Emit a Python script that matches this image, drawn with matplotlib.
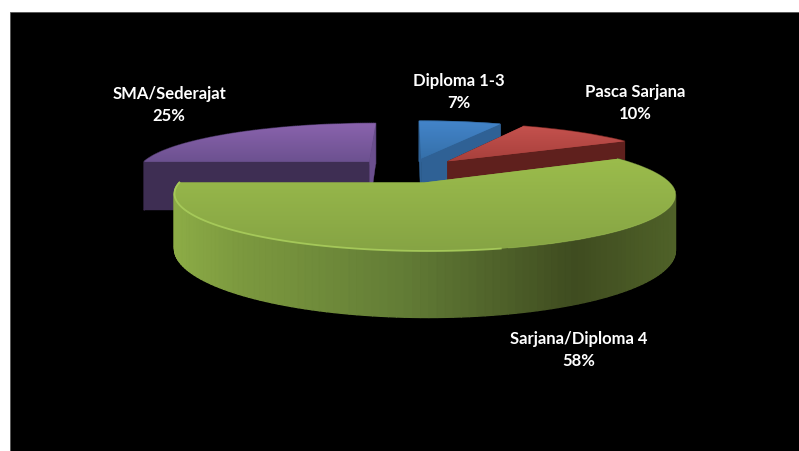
import numpy as np
import matplotlib
matplotlib.use("Agg")
import matplotlib.pyplot as plt
from matplotlib.collections import PolyCollection
from matplotlib.colors import LinearSegmentedColormap
from matplotlib.patches import Rectangle
from matplotlib.transforms import Transform

# data
labels = ["Diploma 1-3", "Pasca Sarjana", "Sarjana/Diploma 4", "SMA/Sederajat"]
values = [7, 10, 58, 25]
explode = [0.25, 0.25, 0.25, 0.25]

# colours
top_light = ["#4384c9", "#c5524e", "#9bbc4c", "#8a63ad"]
top_dark = ["#3570aa", "#a8403c", "#86a444", "#6c5190"]
wall_near = ["#2f6195", "#5f201d", "#5f7a35", "#3e2e53"]
wall_far = ["#2f6195", "#5f201d", "#5f7a35", "#6b4f8e"]
green_wall = [(0, "#8cac46"), (0.12, "#7d9a3f"), (0.45, "#637d36"),
              (0.8, "#3f4c20"), (1, "#4f6128")]
# painter order, back to front
draw_order = [3, 0, 1, 2]
label_pos = [(459, 92), (635, 103), (579, 350), (169, 105)]

# perspective of the pie plate, in pixels
CX, CY = 409, 170
A, B, P = 233, 49, 0.2
DEPTH = 50


def project(u, v, z=0.0):
    s = 1 / (1 + P * v)
    return CX + A * u * s, CY + s * (z - B * v)


class Plate(Transform):
    input_dims = 2
    output_dims = 2
    is_affine = False

    def transform_non_affine(self, values):
        values = np.asarray(values)
        x, y = project(values[:, 0], values[:, 1])
        return np.column_stack([x, y])


fig = plt.figure(figsize=(7.99, 4.51), dpi=100, facecolor="white")
ax = fig.add_axes([0, 0, 1, 1])

wedges, _ = ax.pie(values, explode=explode, colors=top_dark, startangle=90,
                   counterclock=False, radius=1,
                   wedgeprops={"linewidth": 0})
ax.set_aspect("auto")
ax.add_patch(Rectangle((9.5, 11.5), 800, 450, fc="black", ec="#555555", lw=0.6, zorder=0))

for rank, i in enumerate(draw_order):
    w = wedges[i]
    base = 10 * (rank + 1)
    cu, cv = w.center
    th = np.radians(np.linspace(w.theta1, w.theta2, 140))
    arc_u = cu + w.r * np.cos(th)
    arc_v = cv + w.r * np.sin(th)
    x0, y0 = project(arc_u, arc_v)
    x1, y1 = project(arc_u, arc_v, DEPTH)

    # outer wall, cut in strips so it can shade along the rim
    strips = [[(x0[k], y0[k]), (x0[k + 1], y0[k + 1]), (x1[k + 1], y1[k + 1]), (x1[k], y1[k])]
              for k in range(len(th) - 1)]
    if i == 2:
        cmap = LinearSegmentedColormap.from_list("rim", green_wall)
        mid = (x0[:-1] + x0[1:]) / 2
        cols = cmap((mid - x0.min()) / (x0.max() - x0.min()))
    else:
        cols = [wall_near[i]] * len(strips)
    ax_x, ax_y = project(cu, cv)
    ax_xb, ax_yb = project(cu, cv, DEPTH)

    # the two cut walls; the one facing the viewer goes last, the big slice shows neither
    ends = [(0, wall_far[i]), (-1, wall_near[i])] if i == 3 else [(-1, wall_far[i]), (0, wall_near[i])]
    ax.add_collection(PolyCollection(strips, facecolors=cols, edgecolors=cols, linewidths=1.0, zorder=base + 1))
    if i != 2:
        for k, col in ends:
            ax.fill([ax_x, x0[k], x1[k], ax_xb], [ax_y, y0[k], y1[k], ax_yb],
                    color=col, lw=0.3, zorder=base + 2)

    # top face: wedge from pie + vertical gradient clipped to it
    w.set_transform(Plate() + ax.transData)
    w.set_zorder(base + 3)
    cmap = LinearSegmentedColormap.from_list("top", [top_light[i], top_dark[i]])
    xs = np.r_[x0, ax_x]
    ys = np.r_[y0, ax_y]
    im = ax.imshow(np.linspace(0, 1, 64)[:, None], cmap=cmap, aspect="auto",
                   extent=[xs.min(), xs.max(), ys.max(), ys.min()],
                   interpolation="bilinear", zorder=base + 4)
    im.set_clip_path(w)

    # bevel along the front of the big slice
    if i == 2:
        n = len(th)
        ax.plot(x0[:n // 2], y0[:n // 2], color="#a9cd5c", lw=1.3, alpha=0.9, zorder=base + 5)
        ax.plot(x0[n // 2:], y0[n // 2:], color="#a6c95b", lw=0.8, alpha=0.3, zorder=base + 5)

for name, val, (tx, ty) in zip(labels, values, label_pos):
    ax.text(tx, ty, f"{name}\n{val}%", color="white", fontsize=12, fontweight="bold",
            family="Lato", ha="center", va="center", linespacing=1.5, zorder=100)

ax.set_xlim(0, 799)
ax.set_ylim(451, 0)
ax.axis("off")

fig.savefig("out.png", dpi=100, facecolor="white")
